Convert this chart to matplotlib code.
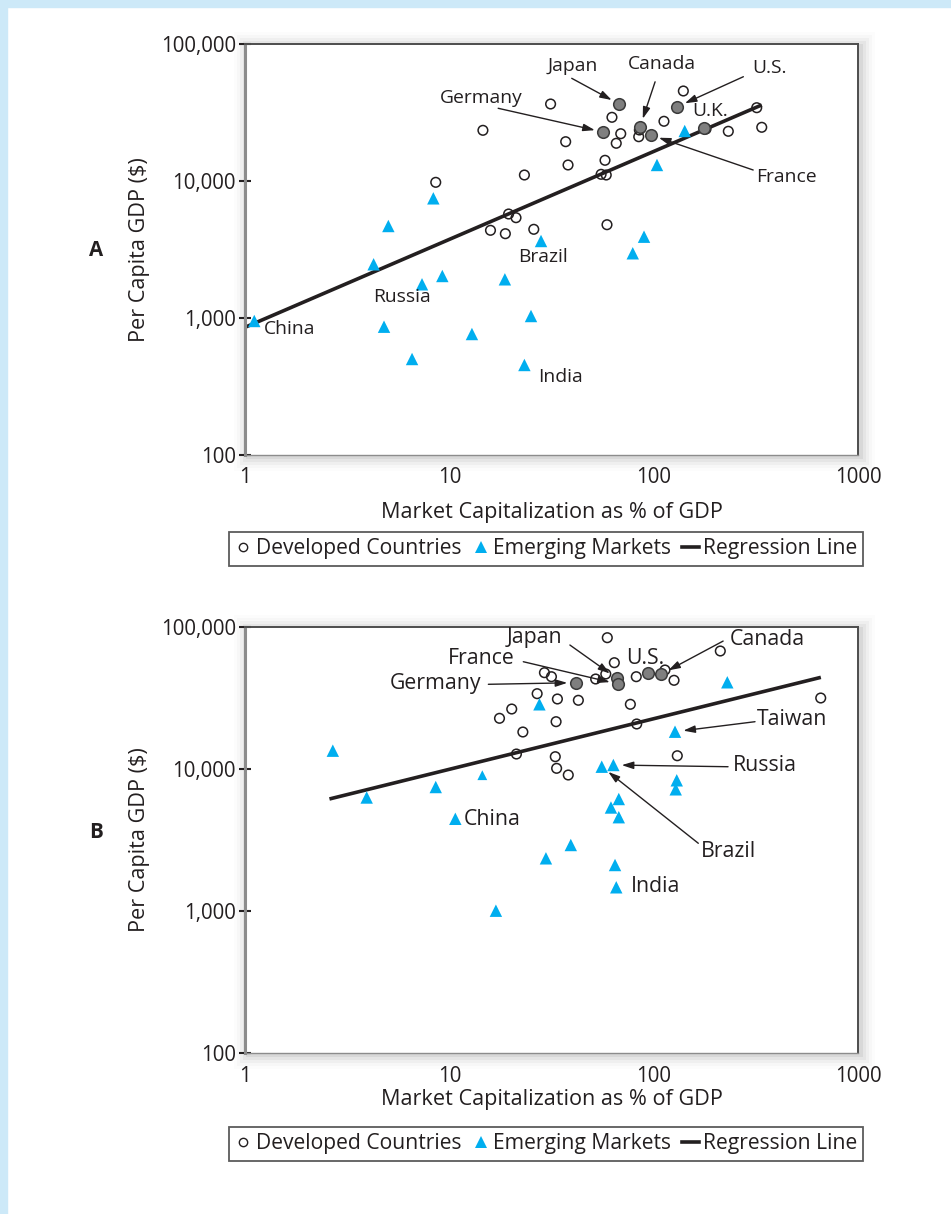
import matplotlib
matplotlib.use("Agg")
import matplotlib.pyplot as plt
from matplotlib.lines import Line2D
from matplotlib.patches import Rectangle

plt.rcParams['font.family'] = ['Open Sans', 'DejaVu Sans']

# ---------------- Panel A data ----------------
a_dev_x = [31.3, 14.6, 8.58, 23.3, 19.5, 21.2, 15.9, 18.8, 25.9, 62.5, 69.0, 65.6, 37.1,
           85.1, 84.5, 112.3, 139.7, 231.9, 319.4, 338, 38.1, 57.8, 55.3, 58.6, 59.1, 180.4]
a_dev_y = [36480, 23440, 9780, 11060, 5743, 5397, 4366, 4124, 4440, 29170, 22140, 18850, 19360,
           23570, 21050, 27280, 45390, 23060, 34280, 24660, 13090, 14160, 11190, 11060, 4797, 23960]
a_hl_names = ['Japan', 'Germany', 'Canada', 'France', 'U.S.', 'U.K.']
a_hl_x = [67.7, 56.5, 85.8, 97.0, 130.5, 176.4]
a_hl_y = [36480, 22790, 24910, 21660, 34850, 24490]
a_em_names = ['', '', '', 'Russia', '', '', 'Brazil', '', '', '', '', 'India', 'China', '', '', '', '']
a_em_x = [8.35, 5.03, 4.26, 7.35, 9.24, 18.7, 28.1, 25.1, 4.79, 12.9, 6.57, 23.3, 1.11,
          141.9, 103.8, 89.7, 79.0]
a_em_y = [7474, 4694, 2466, 1762, 2026, 1916, 3648, 1034, 864, 764, 502, 454, 951,
          23170, 13090, 3922, 2968]
a_reg_x = [1.0, 338.0]
a_reg_y = [855, 35900]

# ---------------- Panel B data ----------------
b_dev_x = [59.3, 64.2, 58.3, 52.0, 29.2, 31.6, 26.9, 33.8, 42.8, 17.6, 20.2, 22.9, 33.3,
           21.3, 33.0, 33.5, 38.2, 82.2, 113.6, 125.8, 211.9, 657, 76.9, 82.6, 130.5]
b_dev_y = [84080, 56060, 46670, 43030, 47680, 44670, 33920, 31120, 30470, 22750, 26450, 18220, 21540,
           12750, 12210, 10110, 9073, 44670, 49800, 42130, 67760, 31620, 28550, 20750, 12400]
b_hl_names = ['Germany', 'Japan', 'France', 'U.S.', 'Canada']
b_hl_x = [41.5, 65.9, 66.9, 93.5, 108.6]
b_hl_y = [40530, 43520, 39680, 47200, 46440]
b_em_names = ['', '', '', '', 'China', '', '', '', '', 'Brazil', 'Russia', '', '', '', '', 'India',
              'Taiwan', '', '', '']
b_em_x = [2.69, 3.94, 8.58, 14.5, 10.7, 16.9, 27.6, 29.7, 39.3, 55.7, 63.5, 61.8, 67.5, 67.5,
          64.7, 65.6, 127.2, 129.7, 128.2, 229.3]
b_em_y = [13460, 6300, 7466, 9043, 4460, 1005, 28550, 2350, 2916, 10380, 10670, 5357, 6147, 4577,
          2108, 1469, 18310, 8326, 7194, 40800]
b_reg_x = [2.59, 658.0]
b_reg_y = [6150, 44200]

x_ticks = [1, 10, 100, 1000]
x_ticklabels = ['1', '10', '100', '1000']
y_ticks = [100, 1000, 10000, 100000]
y_ticklabels = ['100', '1,000', '10,000', '100,000']

CYAN = '#00AEEF'
DARK = '#231F20'
GRAY = '#7F7F7F'
TXT = '#231F20'
FS_TICK = 14.8
FS_LAB = 15.6
FS_ANN_A = 13.9
FS_ANN_B = 15.3
FS_LEG = 15.2

W, H = 951, 1214
fig = plt.figure(figsize=(W / 100, H / 100), dpi=100)
fig.patch.set_facecolor('white')

# light blue page border (left and top)
fig.add_artist(Rectangle((0, 0), 7 / W, 1, transform=fig.transFigure, color='#CDE9F8', zorder=-2))
fig.add_artist(Rectangle((0, 1 - 7 / H), 1, 7 / H, transform=fig.transFigure, color='#CDE9F8', zorder=-2))


def fig_rect(l, t, r, b):
    return [l / W, 1 - b / H, (r - l) / W, (b - t) / H]


def shadow(l, t, r, b):
    for i, a in enumerate([0.05, 0.04, 0.03, 0.02, 0.012]):
        d = 2 + i * 3
        fig.add_artist(Rectangle(((l - d + 3) / W, 1 - (b + d + 2) / H), (r - l + 2 * d) / W,
                                 (b - t + 2 * d) / H, transform=fig.transFigure,
                                 color='black', alpha=a, lw=0, zorder=-1))


def setup(ax):
    ax.set_facecolor('white')
    ax.set_xscale('log')
    ax.set_yscale('log')
    ax.set_xlim(1, 1000)
    ax.set_ylim(100, 100000)
    ax.set_xticks(x_ticks)
    ax.set_xticklabels(x_ticklabels)
    ax.set_yticks(y_ticks)
    ax.set_yticklabels(y_ticklabels)
    ax.minorticks_off()
    ax.tick_params(axis='y', direction='inout', length=9, width=1.5, color=DARK,
                   labelsize=FS_TICK, labelcolor=TXT, pad=2)
    ax.tick_params(axis='x', direction='inout', length=0, width=1.2, color=DARK,
                   labelsize=FS_TICK, labelcolor=TXT, pad=9)
    for s in ['top', 'right']:
        ax.spines[s].set_color('#4D4D4D')
        ax.spines[s].set_linewidth(1.4)
    ax.spines['left'].set_color('#8C8C8C')
    ax.spines['left'].set_linewidth(2.2)
    ax.spines['bottom'].set_color('#8C8C8C')
    ax.spines['bottom'].set_linewidth(1.0)
    ax.set_ylabel('Per Capita GDP ($)', fontsize=FS_LAB, color=TXT, labelpad=8)


ARROW = dict(arrowstyle='-|>,head_length=0.7,head_width=0.22', color=DARK, lw=1.0,
             shrinkA=0, shrinkB=6)


def draw_panel(ax, dev_x, dev_y, hl_x, hl_y, em_x, em_y, reg_x, reg_y, small_idx=None):
    ax.plot(reg_x, reg_y, color=DARK, lw=2.6, zorder=2, solid_capstyle='butt')
    ax.scatter(dev_x, dev_y, s=48, facecolors='none', edgecolors=DARK, linewidths=1.1, zorder=3)
    ax.scatter(hl_x, hl_y, s=70, facecolors=GRAY, edgecolors='#3A3A3A', linewidths=1.1, zorder=4)
    sizes = [80] * len(em_x)
    if small_idx is not None:
        for i in small_idx:
            sizes[i] = 50
    ax.scatter(em_x, em_y, s=sizes, marker='^', color=CYAN, linewidths=0, zorder=3)


# ---------------- Panel A ----------------
rectA = (245, 44, 858, 455)
shadow(*rectA)
axA = fig.add_axes(fig_rect(*rectA))
setup(axA)
axA.set_xlabel('Market Capitalization as % of GDP', fontsize=FS_LAB, color=TXT, labelpad=10)
draw_panel(axA, a_dev_x, a_dev_y, a_hl_x, a_hl_y, a_em_x, a_em_y, a_reg_x, a_reg_y)

hlA = dict(zip(a_hl_names, zip(a_hl_x, a_hl_y)))
emA = {n: (x, y) for n, x, y in zip(a_em_names, a_em_x, a_em_y) if n}
tf = axA.transAxes
for name, tpos, apos in [('Japan', (0.535, 0.9465), (0.533, 0.9165)),
                         ('Canada', (0.680, 0.951), (0.669, 0.908)),
                         ('U.S.', (0.855, 0.9416), (0.813, 0.9204)),
                         ('France', (0.884, 0.6764), (0.829, 0.6934)),
                         ('Germany', (0.385, 0.8686), (0.413, 0.8436))]:
    axA.text(*tpos, name, transform=tf, ha='center', va='center', fontsize=FS_ANN_A, color=TXT)
    axA.annotate('', xy=hlA[name], xycoords='data', xytext=apos, textcoords='axes fraction',
                 arrowprops=ARROW, zorder=5)
axA.text(0.7586, 0.8358, 'U.K.', transform=tf, ha='center', va='center', fontsize=FS_ANN_A, color=TXT)
axA.text(0.486, 0.4818, 'Brazil', transform=tf, ha='center', va='center', fontsize=FS_ANN_A, color=TXT)
axA.text(0.256, 0.3844, 'Russia', transform=tf, ha='center', va='center', fontsize=FS_ANN_A, color=TXT)
axA.text(0.031, 0.3066, 'China', transform=tf, ha='left', va='center', fontsize=FS_ANN_A, color=TXT)
axA.text(0.478, 0.19, 'India', transform=tf, ha='left', va='center', fontsize=FS_ANN_A, color=TXT)

fig.text(96 / W, 1 - 250 / H, 'A', fontsize=FS_TICK, fontweight='bold', color=TXT, ha='center', va='center')

# ---------------- Panel B ----------------
rectB = (245, 627, 858, 1053)
shadow(*rectB)
axB = fig.add_axes(fig_rect(*rectB))
setup(axB)
axB.set_xlabel('Market Capitalization as % of GDP', fontsize=FS_LAB, color=TXT, labelpad=2)
draw_panel(axB, b_dev_x, b_dev_y, b_hl_x, b_hl_y, b_em_x, b_em_y, b_reg_x, b_reg_y, small_idx=[3])

hlB = dict(zip(b_hl_names, zip(b_hl_x, b_hl_y)))
emB = {n: (x, y) for n, x, y in zip(b_em_names, b_em_x, b_em_y) if n}
ptsB = {**hlB, **emB}
tf = axB.transAxes
for name, tpos, apos in [('Japan', (0.473, 0.9765), (0.530, 0.9577)),
                         ('France', (0.386, 0.9265), (0.454, 0.9185)),
                         ('Germany', (0.31, 0.8678), (0.397, 0.8655)),
                         ('Canada', (0.8515, 0.9695), (0.780, 0.967)),
                         ('Taiwan', (0.892, 0.784), (0.832, 0.7777)),
                         ('Russia', (0.848, 0.676), (0.788, 0.672)),
                         ('Brazil', (0.788, 0.474), (0.7395, 0.4923))]:
    axB.text(*tpos, name, transform=tf, ha='center', va='center', fontsize=FS_ANN_B, color=TXT)
    axB.annotate('', xy=ptsB[name], xycoords='data', xytext=apos, textcoords='axes fraction',
                 arrowprops=ARROW, zorder=5)
axB.text(0.6525, 0.9265, 'U.S.', transform=tf, ha='center', va='center', fontsize=FS_ANN_B, color=TXT)
axB.text(0.357, 0.547, 'China', transform=tf, ha='left', va='center', fontsize=FS_ANN_B, color=TXT)
axB.text(0.63, 0.39, 'India', transform=tf, ha='left', va='center', fontsize=FS_ANN_B, color=TXT)

fig.text(96 / W, 1 - 832 / H, 'B', fontsize=FS_TICK, fontweight='bold', color=TXT, ha='center', va='center')

# ---------------- Legends ----------------
handles = [Line2D([], [], ls='none', marker='o', mfc='none', mec=DARK, mew=1.0, ms=6),
           Line2D([], [], ls='none', marker='^', color=CYAN, mew=0, ms=9),
           Line2D([], [], color=DARK, lw=2.6)]
labels = ['Developed Countries', 'Emerging Markets', 'Regression Line']
for cy in [549, 1144]:
    leg = fig.legend(handles, labels, loc='center', bbox_to_anchor=(546 / W, 1 - cy / H),
                     ncol=3, frameon=True, fancybox=False, fontsize=FS_LEG,
                     handlelength=0.8, handletextpad=0.2, columnspacing=0.5,
                     borderpad=0.3, borderaxespad=0, labelcolor=TXT)
    leg.get_frame().set_edgecolor('#333333')
    leg.get_frame().set_linewidth(1.3)

fig.savefig('out.png', dpi=100, facecolor='white')
